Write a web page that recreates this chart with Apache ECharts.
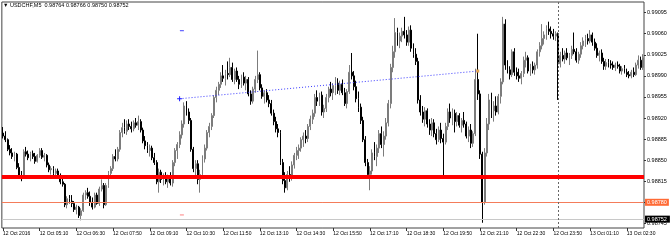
<!DOCTYPE html>
<html><head><meta charset="utf-8">
<script src="https://cdn.jsdelivr.net/npm/echarts@6/dist/echarts.min.js"></script>
<style>html,body{margin:0;padding:0;background:#fff}#c{width:670px;height:240px}</style>
</head><body><div id="c"></div>
<script>
const symbolName = "USDCHF,M5";
const headerOHLC = ["0.98764", "0.98766", "0.98750", "0.98752"];
const tickLabels = ["12 Oct 2016","12 Oct 05:10","12 Oct 06:30","12 Oct 07:50","12 Oct 09:10","12 Oct 10:30","12 Oct 11:50","12 Oct 13:10","12 Oct 14:30","12 Oct 15:50","12 Oct 17:10","12 Oct 18:30","12 Oct 19:50","12 Oct 21:10","12 Oct 22:30","12 Oct 23:50","13 Oct 01:10","13 Oct 02:30"];
const priceTicks = [0.99095,0.99060,0.99025,0.98990,0.98955,0.98920,0.98885,0.98850,0.98815,0.98780,0.98745];

const open = [
0.98895,0.98890,0.98884,0.98868,0.98862,0.98856,0.98860,0.98838,0.98824,0.98822,
0.98864,0.98860,0.98854,0.98861,0.98856,0.98848,0.98858,0.98866,0.98855,0.98858,
0.98842,0.98834,0.98836,0.98828,0.98832,0.98824,0.98814,0.98810,0.98776,0.98786,
0.98782,0.98778,0.98768,0.98772,0.98758,0.98766,0.98792,0.98796,0.98790,0.98780,
0.98772,0.98792,0.98778,0.98802,0.98808,0.98776,0.98808,0.98828,0.98836,0.98856,
0.98852,0.98868,0.98896,0.98904,0.98898,0.98910,0.98906,0.98902,0.98912,0.98908,
0.98914,0.98900,0.98882,0.98874,0.98866,0.98870,0.98854,0.98846,0.98814,0.98830,
0.98818,0.98824,0.98814,0.98820,0.98812,0.98846,0.98866,0.98876,0.98892,0.98910,
0.98940,0.98930,0.98916,0.98868,0.98836,0.98844,0.98818,0.98826,0.98852,0.98870,
0.98896,0.98906,0.98924,0.98954,0.98966,0.98976,0.98990,0.98986,0.98994,0.98992,
0.99004,0.98984,0.98998,0.98984,0.98976,0.98988,0.98978,0.98984,0.98960,0.98948,
0.98968,0.98984,0.98992,0.98970,0.98956,0.98962,0.98950,0.98944,0.98928,0.98914,
0.98902,0.98896,0.98846,0.98816,0.98804,0.98826,0.98820,0.98842,0.98858,0.98866,
0.98870,0.98884,0.98890,0.98886,0.98906,0.98918,0.98928,0.98954,0.98948,0.98958,
0.98930,0.98936,0.98954,0.98968,0.98962,0.98974,0.98978,0.98966,0.98976,0.98962,
0.98944,0.98964,0.98996,0.98990,0.98972,0.98952,0.98938,0.98916,0.98884,0.98846,
0.98826,0.98832,0.98862,0.98856,0.98870,0.98894,0.98876,0.98890,0.98912,0.98944,
0.99004,0.99030,0.99062,0.99048,0.99056,0.99064,0.99058,0.99046,0.99066,0.99036,
0.99026,0.99014,0.98950,0.98930,0.98918,0.98932,0.98910,0.98900,0.98912,0.98894,
0.98884,0.98900,0.98886,0.98880,0.98906,0.98930,0.98920,0.98928,0.98914,0.98924,
0.98908,0.98916,0.98910,0.98890,0.98900,0.98878,0.98894,0.98984,0.98960,0.98860,
0.98780,0.98862,0.98910,0.98950,0.98932,0.98940,0.98930,0.98956,0.98980,0.99076,
0.99008,0.99000,0.98992,0.99030,0.98996,0.98990,0.98986,0.98994,0.99016,0.99020,
0.98998,0.99006,0.99000,0.99008,0.99030,0.99040,0.99052,0.99058,0.99068,0.99064,
0.99060,0.99056,0.99060,0.99010,0.99024,0.99018,0.99028,0.99020,0.99024,0.99034,
0.99030,0.99016,0.99026,0.99040,0.99048,0.99052,0.99048,0.99058,0.99046,0.99036,
0.99024,0.99028,0.99014,0.99006,0.99012,0.99010,0.99008,0.99004,0.99008,0.99006,
0.98998,0.99002,0.98996,0.98992,0.98990,0.98996,0.98992,0.99008,0.99016,0.99004];

const high = [
0.98905,0.98898,0.98886,0.98875,0.98870,0.98864,0.98862,0.98845,0.98832,0.98868,
0.98872,0.98866,0.98864,0.98866,0.98862,0.98860,0.98870,0.98870,0.98862,0.98860,
0.98846,0.98840,0.98840,0.98836,0.98836,0.98828,0.98820,0.98812,0.98790,0.98792,
0.98792,0.98782,0.98776,0.98774,0.98770,0.98796,0.98800,0.98804,0.98798,0.98788,
0.98796,0.98796,0.98806,0.98818,0.98812,0.98812,0.98832,0.98840,0.98860,0.98868,
0.98872,0.98900,0.98912,0.98918,0.98916,0.98918,0.98914,0.98916,0.98920,0.98924,
0.98918,0.98904,0.98890,0.98880,0.98876,0.98874,0.98862,0.98850,0.98836,0.98834,
0.98828,0.98830,0.98826,0.98830,0.98850,0.98870,0.98880,0.98898,0.98916,0.98946,
0.98948,0.98936,0.98920,0.98872,0.98850,0.98850,0.98834,0.98858,0.98876,0.98900,
0.98912,0.98928,0.98958,0.98972,0.98980,0.98996,0.99008,0.99000,0.99014,0.99020,
0.99012,0.99002,0.99004,0.98990,0.98992,0.98996,0.98990,0.98988,0.98966,0.98972,
0.98990,0.99032,0.98996,0.98976,0.98966,0.98968,0.98958,0.98950,0.98934,0.98922,
0.98910,0.98900,0.98852,0.98830,0.98832,0.98840,0.98848,0.98862,0.98872,0.98876,
0.98888,0.98896,0.98900,0.98910,0.98924,0.98934,0.98960,0.98966,0.98962,0.98964,
0.98942,0.98960,0.98972,0.98980,0.98978,0.98988,0.98986,0.98982,0.98984,0.98970,
0.98968,0.99008,0.99028,0.98998,0.98982,0.98964,0.98944,0.98922,0.98890,0.98852,
0.98840,0.98868,0.98880,0.98876,0.98900,0.98906,0.98898,0.98920,0.98950,0.99010,
0.99040,0.99086,0.99070,0.99062,0.99070,0.99088,0.99066,0.99072,0.99074,0.99044,
0.99036,0.99020,0.98958,0.98940,0.98938,0.98936,0.98918,0.98920,0.98918,0.98902,
0.98906,0.98912,0.98894,0.98912,0.98936,0.98944,0.98936,0.98934,0.98930,0.98928,
0.98920,0.98930,0.98914,0.98906,0.98910,0.98898,0.99002,0.99060,0.98966,0.98864,
0.98870,0.98920,0.98960,0.98962,0.98948,0.98956,0.98960,0.98986,0.99088,0.99084,
0.99016,0.99006,0.99034,0.99036,0.99004,0.99002,0.98998,0.99022,0.99030,0.99024,
0.99010,0.99014,0.99012,0.99034,0.99046,0.99076,0.99064,0.99074,0.99080,0.99072,
0.99068,0.99064,0.99062,0.99030,0.99036,0.99032,0.99036,0.99028,0.99040,0.99062,
0.99036,0.99030,0.99046,0.99054,0.99058,0.99060,0.99066,0.99062,0.99052,0.99044,
0.99032,0.99034,0.99020,0.99018,0.99018,0.99016,0.99014,0.99012,0.99014,0.99010,
0.99006,0.99008,0.99002,0.98998,0.99000,0.99004,0.99012,0.99024,0.99022,0.99026];

const low = [
0.98886,0.98880,0.98865,0.98858,0.98852,0.98848,0.98835,0.98820,0.98815,0.98820,
0.98856,0.98850,0.98848,0.98852,0.98844,0.98846,0.98854,0.98852,0.98848,0.98838,
0.98830,0.98826,0.98824,0.98822,0.98820,0.98810,0.98806,0.98772,0.98770,0.98778,
0.98772,0.98764,0.98760,0.98754,0.98750,0.98764,0.98784,0.98786,0.98774,0.98768,
0.98770,0.98776,0.98774,0.98798,0.98770,0.98774,0.98804,0.98820,0.98832,0.98848,
0.98848,0.98864,0.98888,0.98894,0.98892,0.98900,0.98896,0.98898,0.98904,0.98900,
0.98896,0.98878,0.98868,0.98862,0.98856,0.98850,0.98842,0.98810,0.98796,0.98812,
0.98808,0.98810,0.98804,0.98808,0.98806,0.98840,0.98852,0.98870,0.98886,0.98904,
0.98924,0.98910,0.98864,0.98830,0.98820,0.98810,0.98796,0.98820,0.98846,0.98866,
0.98888,0.98900,0.98920,0.98946,0.98958,0.98970,0.98980,0.98974,0.98984,0.98988,
0.98980,0.98976,0.98980,0.98968,0.98970,0.98974,0.98966,0.98956,0.98942,0.98944,
0.98962,0.98978,0.98966,0.98952,0.98944,0.98946,0.98938,0.98924,0.98908,0.98896,
0.98888,0.98842,0.98810,0.98796,0.98800,0.98814,0.98816,0.98836,0.98850,0.98852,
0.98864,0.98872,0.98878,0.98880,0.98900,0.98910,0.98922,0.98940,0.98940,0.98924,
0.98920,0.98930,0.98946,0.98956,0.98950,0.98958,0.98960,0.98958,0.98958,0.98940,
0.98936,0.98960,0.98984,0.98966,0.98946,0.98930,0.98910,0.98880,0.98840,0.98820,
0.98800,0.98826,0.98850,0.98840,0.98862,0.98870,0.98856,0.98884,0.98906,0.98936,
0.98996,0.99020,0.99040,0.99036,0.99046,0.99052,0.99040,0.99040,0.99030,0.99020,
0.99008,0.98944,0.98924,0.98912,0.98906,0.98904,0.98892,0.98890,0.98888,0.98876,
0.98880,0.98878,0.98820,0.98876,0.98900,0.98912,0.98908,0.98896,0.98906,0.98904,
0.98896,0.98904,0.98886,0.98880,0.98870,0.98872,0.98890,0.98950,0.98852,0.98746,
0.98776,0.98856,0.98900,0.98920,0.98914,0.98924,0.98926,0.98944,0.98976,0.99000,
0.98994,0.98984,0.98988,0.98990,0.98984,0.98980,0.98976,0.98988,0.99004,0.98994,
0.98990,0.98994,0.98992,0.99002,0.99022,0.99034,0.99042,0.99050,0.99058,0.99052,
0.99050,0.99048,0.98950,0.99004,0.99014,0.99010,0.99016,0.99008,0.99018,0.99026,
0.99012,0.99010,0.99020,0.99034,0.99038,0.99042,0.99044,0.99040,0.99032,0.99020,
0.99014,0.99010,0.99000,0.99000,0.99004,0.99002,0.99000,0.98998,0.99002,0.98994,
0.98992,0.98994,0.98988,0.98986,0.98986,0.98988,0.98990,0.99002,0.99000,0.99000];

const close = [
0.98890,0.98884,0.98868,0.98862,0.98856,0.98860,0.98838,0.98824,0.98822,0.98864,
0.98860,0.98854,0.98861,0.98856,0.98848,0.98858,0.98866,0.98855,0.98858,0.98842,
0.98834,0.98836,0.98828,0.98832,0.98824,0.98814,0.98810,0.98776,0.98786,0.98782,
0.98778,0.98768,0.98772,0.98758,0.98766,0.98792,0.98796,0.98790,0.98780,0.98772,
0.98792,0.98778,0.98802,0.98808,0.98776,0.98808,0.98828,0.98836,0.98856,0.98852,
0.98868,0.98896,0.98904,0.98898,0.98910,0.98906,0.98902,0.98912,0.98908,0.98914,
0.98900,0.98882,0.98874,0.98866,0.98870,0.98854,0.98846,0.98814,0.98830,0.98818,
0.98824,0.98814,0.98820,0.98812,0.98846,0.98866,0.98876,0.98892,0.98910,0.98940,
0.98930,0.98916,0.98868,0.98836,0.98844,0.98818,0.98826,0.98852,0.98870,0.98896,
0.98906,0.98924,0.98954,0.98966,0.98976,0.98990,0.98986,0.98994,0.98992,0.99004,
0.98984,0.98998,0.98984,0.98976,0.98988,0.98978,0.98984,0.98960,0.98948,0.98968,
0.98984,0.98992,0.98970,0.98956,0.98962,0.98950,0.98944,0.98928,0.98914,0.98902,
0.98896,0.98846,0.98816,0.98804,0.98826,0.98820,0.98842,0.98858,0.98866,0.98870,
0.98884,0.98890,0.98886,0.98906,0.98918,0.98928,0.98954,0.98948,0.98958,0.98930,
0.98936,0.98954,0.98968,0.98962,0.98974,0.98978,0.98966,0.98976,0.98962,0.98944,
0.98964,0.98996,0.98990,0.98972,0.98952,0.98938,0.98916,0.98884,0.98846,0.98826,
0.98832,0.98862,0.98856,0.98870,0.98894,0.98876,0.98890,0.98912,0.98944,0.99004,
0.99030,0.99062,0.99048,0.99056,0.99064,0.99058,0.99046,0.99066,0.99036,0.99026,
0.99014,0.98950,0.98930,0.98918,0.98932,0.98910,0.98900,0.98912,0.98894,0.98884,
0.98900,0.98886,0.98880,0.98906,0.98930,0.98920,0.98928,0.98914,0.98924,0.98908,
0.98916,0.98910,0.98890,0.98900,0.98878,0.98894,0.98984,0.98960,0.98860,0.98780,
0.98862,0.98910,0.98950,0.98932,0.98940,0.98930,0.98956,0.98980,0.99076,0.99008,
0.99000,0.98992,0.99030,0.98996,0.98990,0.98986,0.98994,0.99016,0.99020,0.98998,
0.99006,0.99000,0.99008,0.99030,0.99040,0.99052,0.99058,0.99068,0.99064,0.99060,
0.99056,0.99060,0.99010,0.99024,0.99018,0.99028,0.99020,0.99024,0.99034,0.99030,
0.99016,0.99026,0.99040,0.99048,0.99052,0.99048,0.99058,0.99046,0.99036,0.99024,
0.99028,0.99014,0.99006,0.99012,0.99010,0.99008,0.99004,0.99008,0.99006,0.98998,
0.99002,0.98996,0.98992,0.98990,0.98996,0.98992,0.99008,0.99016,0.99004,0.99020];

const supportLevel = 0.98822;
const alertLevel = 0.98780;
const bidLevel = 0.98752;
const trendStart = [77, 0.98952];
const trendEnd = [207, 0.98998];
const vLineIndex = 242;
const blueDash = [78, 0.99065];
const pinkDash = [78, 0.98759];

// bar times (5-minute bars starting 12 Oct 03:50)
const categories = [];
const t0 = Date.UTC(2016, 9, 12, 3, 50);
const mon = ["Jan","Feb","Mar","Apr","May","Jun","Jul","Aug","Sep","Oct","Nov","Dec"];
for (let i = 0; i < open.length; i++) {
  const d = new Date(t0 + i * 300000);
  const p = n => (n < 10 ? "0" : "") + n;
  categories.push(d.getUTCDate() + " " + mon[d.getUTCMonth()] + " " + p(d.getUTCHours()) + ":" + p(d.getUTCMinutes()));
}
const UP = {color: '#a6a6a6', borderColor: '#7c7c7c', borderWidth: 1};
const DOWN = {color: '#000000', borderColor: '#000000', borderWidth: 1};
const candles = open.map((o, i) => ({
  value: [o, close[i], low[i], high[i]],
  itemStyle: close[i] >= o ? UP : DOWN
}));

const FONT = "Liberation Sans";
const chart = echarts.init(document.getElementById('c'), null, {renderer: 'canvas'});
chart.setOption({
  animation: false,
  backgroundColor: '#fff',
  textStyle: {fontFamily: FONT},
  title: {
    text: '\u25BC ' + symbolName + '  ' + headerOHLC.join(' '),
    left: 3, top: 2, padding: 0,
    textStyle: {fontSize: 5.5, fontWeight: 'normal', color: '#000', fontFamily: FONT}
  },
  grid: {left: 1, right: 26, top: 2, bottom: 12, show: true, borderColor: '#444', borderWidth: 1, backgroundColor: '#fff'},
  xAxis: {
    type: 'category', data: categories, boundaryGap: true,
    axisLine: {show: false},
    axisTick: {show: true, interval: 15, alignWithLabel: true, length: 3, lineStyle: {color: '#333'}},
    axisLabel: {interval: 15, fontSize: 5, color: '#000', align: 'left', margin: 3,
      formatter: (v, i) => (i % 16 === 0 && tickLabels[i / 16]) ? tickLabels[i / 16] : ''},
    splitLine: {show: false}
  },
  yAxis: {
    type: 'value', position: 'right', min: 0.987373, max: 0.991127,
    splitLine: {show: false}, axisLine: {show: false},
    axisTick: {show: true, length: 2, customValues: priceTicks, lineStyle: {color: '#333'}},
    axisLabel: {customValues: priceTicks, fontSize: 5.5, margin: 3, color: '#000', formatter: v => v.toFixed(5)}
  },
  series: [{
    name: 'levels', type: 'line', data: [], symbol: 'none', z: 1,
    markLine: {
      silent: true, symbol: 'none', animation: false, precision: 5,
      data: [
        {yAxis: bidLevel, lineStyle: {color: '#c8c8c8', width: 1, type: 'solid'},
          label: {show: true, position: 'end', distance: 1, formatter: bidLevel.toFixed(5), backgroundColor: '#000', color: '#fff', fontSize: 5.5, padding: [1, 3, 0, 2]}},
        {yAxis: alertLevel, lineStyle: {color: '#f47c5a', width: 1, type: 'solid'},
          label: {show: true, position: 'end', distance: 1, formatter: alertLevel.toFixed(5), backgroundColor: '#ff6a35', color: '#fff', fontSize: 5.5, padding: [1, 2, 0, 2]}}
      ]
    }
  }, {
    type: 'candlestick', data: candles, barWidth: 1.4, z: 2,
    itemStyle: {color: '#a6a6a6', color0: '#000', borderColor: '#7c7c7c', borderColor0: '#000', borderWidth: 1},
    markLine: {
      silent: true, symbol: 'none', animation: false, precision: 5,
      data: [
        {xAxis: categories[vLineIndex], lineStyle: {color: '#666', width: 1, type: [2, 2]}, label: {show: false}},
        [{coord: [categories[trendStart[0]], trendStart[1]], lineStyle: {color: '#3a3aff', width: 1, type: [1, 2]}, label: {show: false}},
         {coord: [categories[trendEnd[0]], trendEnd[1]]}]
      ]
    },
    markPoint: {
      silent: true, animation: false, label: {show: false},
      data: [
        {coord: [categories[trendStart[0]], trendStart[1]], symbol: 'path://M4,0H6V4H10V6H6V10H4V6H0V4H4Z', symbolSize: 5, itemStyle: {color: '#2020ff'}},
        {coord: [categories[trendEnd[0]], trendEnd[1]], symbol: 'rect', symbolSize: 3, itemStyle: {color: '#e0a050'}},
        {coord: [categories[blueDash[0]], blueDash[1]], symbol: 'rect', symbolSize: [4, 1], itemStyle: {color: '#4040ff'}},
        {coord: [categories[pinkDash[0]], pinkDash[1]], symbol: 'rect', symbolSize: [4, 1], itemStyle: {color: '#ff8080'}}
      ]
    }
  }, {
    name: 'support', type: 'line', data: [], symbol: 'none', z: 3,
    markLine: {
      silent: true, symbol: 'none', animation: false, precision: 5,
      data: [{yAxis: supportLevel, lineStyle: {color: '#ff0000', width: 4, type: 'solid'}, label: {show: false}}]
    }
  }]
});
</script>
</body></html>
